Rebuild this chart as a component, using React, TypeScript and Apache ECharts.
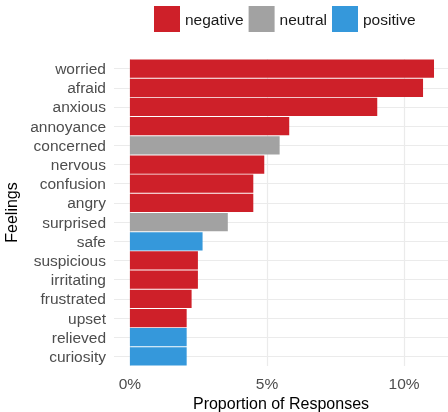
import React, { useEffect, useRef } from "react";
import * as echarts from "echarts";

const categories = [
  "worried", "afraid", "anxious", "annoyance", "concerned", "nervous", "confusion", "angry",
  "surprised", "safe", "suspicious", "irritating", "frustrated", "upset", "relieved", "curiosity",
];
// proportion of responses, in percent
const proportions = [11.09, 10.69, 9.02, 5.81, 5.46, 4.9, 4.5, 4.5, 3.57, 2.65, 2.48, 2.48, 2.25, 2.07, 2.07, 2.07];
const sentiments = [
  "negative", "negative", "negative", "negative", "neutral", "negative", "negative", "negative",
  "neutral", "positive", "negative", "negative", "negative", "negative", "positive", "positive",
];
const groups = ["negative", "neutral", "positive"];
const groupColors = ["#CE2029", "#A2A2A2", "#3598DB"];
const xTickValues = [0, 5, 10];

const FONT = "Liberation Sans, Arial, sans-serif";

export default function App() {
  const ref = useRef<HTMLDivElement>(null);
  useEffect(() => {
    if (!ref.current) return;
    const chart = echarts.init(ref.current, undefined, { renderer: "svg" });
    const series = groups.map((g, gi) => ({
      name: g,
      type: "bar",
      stack: "all",
      barCategoryGap: "5%",
      itemStyle: { color: groupColors[gi] },
      data: proportions.map((v, i) => (sentiments[i] === g ? v : null)),
    }));
    chart.setOption({
      animation: false,
      textStyle: { fontFamily: FONT },
      legend: {
        data: groups,
        top: 6,
        left: 154,
        padding: 0,
        itemWidth: 26,
        itemHeight: 26,
        itemGap: 5,
        icon: "rect",
        textStyle: { fontSize: 15.5, color: "#1a1a1a", fontFamily: FONT },
      },
      grid: { left: 114, right: 0, top: 59, bottom: 46, containLabel: false, outerBoundsMode: "none" },
      xAxis: {
        type: "value",
        min: -0.58,
        max: 11.6,
        splitNumber: 3,
        name: "Proportion of Responses",
        nameLocation: "middle",
        nameGap: 24,
        nameTextStyle: { fontSize: 16, color: "#000", fontFamily: FONT },
        axisLine: { show: false },
        axisTick: { show: false },
        axisLabel: {
          fontSize: 15.5,
          color: "#4d4d4d",
          margin: 9,
          showMinLabel: false,
          showMaxLabel: false,
          formatter: (v: number) => (xTickValues.indexOf(Math.round(v * 1000) / 1000) >= 0 ? v + "%" : ""),
        },
        splitLine: { show: true, showMinLine: false, showMaxLine: false, lineStyle: { color: "#ebebeb", width: 1.2 } },
      },
      yAxis: {
        type: "category",
        data: categories,
        inverse: true,
        name: "Feelings",
        nameLocation: "middle",
        nameGap: 89,
        nameTextStyle: { fontSize: 16, color: "#000", fontFamily: FONT },
        axisLine: { show: false },
        axisTick: { show: false },
        axisLabel: { interval: 0, fontSize: 15.5, color: "#4d4d4d", margin: 8 },
        splitLine: { show: true, interval: 0, alignWithLabel: true, lineStyle: { color: "#ebebeb", width: 1.2 } },
      },
      series,
    });
    return () => chart.dispose();
  }, []);
  return <div ref={ref} style={{ position: "fixed", left: 0, top: 0, width: 448, height: 412 }} />;
}
